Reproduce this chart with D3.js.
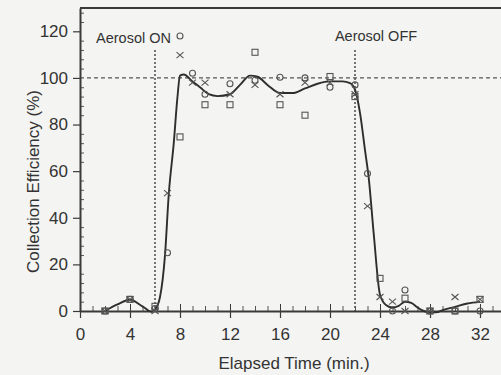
<!DOCTYPE html>
<html>
<head>
<meta charset="utf-8">
<script src="https://cdn.jsdelivr.net/npm/d3@7"></script>
<style>
  body { margin: 0; background: #f4f4f2; }
  svg { display: block; }
  text { font-family: "Liberation Sans", Arial, sans-serif; fill: #333; }
</style>
</head>
<body>
<div id="chart"></div>
<script>
"use strict";

// measured series (time in min, efficiency in %)
const circleT = [2, 4, 6, 7, 8, 9, 10, 12, 14, 16, 18, 20, 22, 23, 25, 26, 28, 30, 32];
const circleV = [0, 5, 1, 25, 118, 102, 93, 97.5, 99, 100.3, 100, 96, 97, 59, 0, 9, 0, 0, 0];

const crossT = [2, 4, 6, 7, 8, 9, 10, 12, 14, 16, 18, 20, 22, 23, 24, 25, 26, 28, 30, 32];
const crossV = [0, 5, 0, 50.6, 109.8, 98, 98, 93, 97, 93, 98, 98, 93, 45, 6, 4, 0, 0, 6, 5];

const squareT = [2, 4, 6, 8, 10, 12, 14, 16, 18, 20, 22, 24, 26, 28, 30, 32];
const squareV = [0, 5, 2, 74.7, 88.5, 88.5, 111, 88.5, 84, 100.6, 92, 14, 5.5, 0, 0, 5];

// fitted curve
const fitT = [2, 3, 4, 5, 5.7, 6, 6.4, 6.8, 7.1, 7.5, 7.8, 8, 8.3, 9, 9.6, 10.3, 11, 12, 12.8, 13.6, 14.2, 15, 16, 17, 18, 19, 20, 21, 21.6, 22, 22.4, 22.8, 23.1, 23.5, 24, 24.5, 25, 25.5, 26, 26.5, 27, 27.5, 28, 28.5, 29, 30, 31, 32];
const fitV = [0, 2.8, 4.8, 2, -0.3, 0.6, 6, 24, 50, 72, 92, 101, 101.5, 98.5, 96, 93, 92.2, 93, 97, 101, 100.5, 97, 93.5, 93.5, 95.5, 97.5, 98.5, 98.5, 97.8, 95, 85, 69, 57, 33, 7, 2.5, 1.5, 2.2, 4, 3.5, 1.5, 0, -0.6, -0.6, 0.4, 1.8, 3.2, 3.9];

const xMajor = [0, 4, 8, 12, 16, 20, 24, 28, 32];
const yMajor = [0, 20, 40, 60, 80, 100, 120];

const W = 501, H = 375;
const x = d3.scaleLinear().domain([0, 34]).range([80, 505]);
const y = d3.scaleLinear().domain([0, 130]).range([311, 8]);

const svg = d3.select("#chart").append("svg")
  .attr("width", W).attr("height", H)
  .attr("viewBox", [0, 0, W, H]);

const ink = "#3a3a3a";

// reference lines
svg.append("line")
  .attr("x1", x(0)).attr("x2", W)
  .attr("y1", y(100)).attr("y2", y(100))
  .attr("stroke", "#555").attr("stroke-width", 1.2)
  .attr("stroke-dasharray", "4,3");

[6, 22].forEach(t => {
  svg.append("line")
    .attr("x1", x(t)).attr("x2", x(t))
    .attr("y1", y(112)).attr("y2", y(0))
    .attr("stroke", "#555").attr("stroke-width", 1.6)
    .attr("stroke-dasharray", "2,2");
});

// top frame
svg.append("line")
  .attr("x1", x(0)).attr("x2", W)
  .attr("y1", y(130)).attr("y2", y(130))
  .attr("stroke", ink).attr("stroke-width", 2.2);

// y axis
const yMinor = d3.range(0, 131, 4).filter(v => v % 20 !== 0);
svg.append("g")
  .attr("transform", `translate(${x(0)},0)`)
  .call(d3.axisRight(y).tickValues(yMinor).tickSize(4).tickFormat(""))
  .call(g => g.select(".domain").remove())
  .call(g => g.selectAll("line").attr("stroke", "#555"));

const yAx = svg.append("g")
  .attr("transform", `translate(${x(0)},0)`)
  .call(d3.axisLeft(y).tickValues(yMajor).tickSize(7).tickSizeOuter(0).tickPadding(5));
yAx.select(".domain").attr("stroke", ink).attr("stroke-width", 2);
yAx.selectAll("line").attr("stroke", ink).attr("stroke-width", 1.2);
yAx.selectAll("text").style("font-size", "17px").attr("fill", "#333");

// x axis
const xMinor = d3.range(1, 34).filter(t => t % 4 !== 0);
svg.append("g")
  .attr("transform", `translate(0,${y(0)})`)
  .call(d3.axisTop(x).tickValues(xMinor).tickSize(5).tickFormat(""))
  .call(g => g.select(".domain").remove())
  .call(g => g.selectAll("line").attr("stroke", "#555"));

svg.append("g")
  .attr("transform", `translate(0,${y(0)})`)
  .call(d3.axisTop(x).tickValues(xMajor.slice(1)).tickSize(7).tickFormat(""))
  .call(g => g.select(".domain").remove())
  .call(g => g.selectAll("line").attr("stroke", ink));

const xAx = svg.append("g")
  .attr("transform", `translate(0,${y(0)})`)
  .call(d3.axisBottom(x).tickValues(xMajor).tickSize(7).tickSizeOuter(0).tickPadding(10));
xAx.select(".domain").attr("stroke", ink).attr("stroke-width", 2);
xAx.selectAll("line").attr("stroke", ink).attr("stroke-width", 1.2);
xAx.selectAll("text").style("font-size", "17px").attr("fill", "#333");

// fitted curve
const fit = fitT.map((t, i) => [t, fitV[i]]);
svg.append("path")
  .datum(fit)
  .attr("fill", "none")
  .attr("stroke", "#2e2e2e")
  .attr("stroke-width", 1.9)
  .attr("d", d3.line().x(d => x(d[0])).y(d => y(d[1])).curve(d3.curveMonotoneX));

// markers
const mk = "#555";
svg.append("g").selectAll("circle")
  .data(circleT.map((t, i) => [t, circleV[i]]))
  .join("circle")
  .attr("cx", d => x(d[0])).attr("cy", d => y(d[1]))
  .attr("r", 3)
  .attr("fill", "none").attr("stroke", mk).attr("stroke-width", 1.1);

svg.append("g").selectAll("rect")
  .data(squareT.map((t, i) => [t, squareV[i]]))
  .join("rect")
  .attr("x", d => x(d[0]) - 3).attr("y", d => y(d[1]) - 3)
  .attr("width", 6).attr("height", 6)
  .attr("fill", "none").attr("stroke", mk).attr("stroke-width", 1.1);

svg.append("g").selectAll("path")
  .data(crossT.map((t, i) => [t, crossV[i]]))
  .join("path")
  .attr("transform", d => `translate(${x(d[0])},${y(d[1])})`)
  .attr("d", "M-3.5,-3L3.5,3M-3.5,3L3.5,-3")
  .attr("fill", "none").attr("stroke", mk).attr("stroke-width", 1.1);

// annotations
svg.append("text")
  .attr("x", 171).attr("y", 43)
  .attr("text-anchor", "end")
  .style("font-size", "14.5px")
  .text("Aerosol ON");

svg.append("text")
  .attr("x", 376).attr("y", 41)
  .attr("text-anchor", "middle")
  .style("font-size", "14.5px")
  .text("Aerosol OFF");

// axis titles
svg.append("text")
  .attr("transform", `translate(39,${(y(0) + y(130)) / 2 + 22}) rotate(-90)`)
  .attr("text-anchor", "middle")
  .style("font-size", "17px")
  .text("Collection Efficiency (%)");

svg.append("text")
  .attr("x", 294).attr("y", 369)
  .attr("text-anchor", "middle")
  .style("font-size", "17px")
  .text("Elapsed Time (min.)");
</script>
</body>
</html>
